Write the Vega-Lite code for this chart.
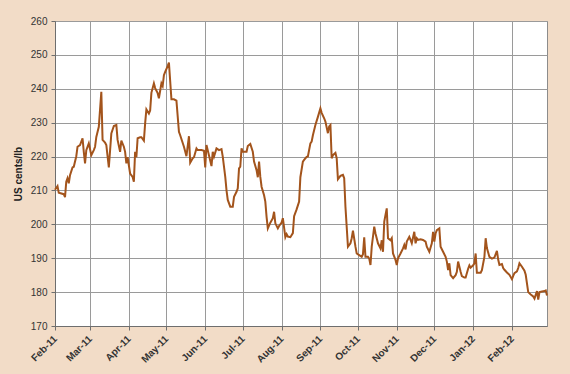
{
  "$schema": "https://vega.github.io/schema/vega-lite/v6.json",
  "width": 492,
  "height": 305,
  "autosize": {"type": "none"},
  "padding": {"left": 55, "top": 21, "right": 23, "bottom": 48},
  "background": "#F2DCC7",
  "config": {
    "view": {"fill": "white", "stroke": "#8c8c8c", "strokeWidth": 1},
    "font": "Liberation Sans",
    "axis": {
      "gridColor": "#9a9a9a",
      "gridWidth": 1,
      "domainColor": "#6e6e6e",
      "tickColor": "#6e6e6e",
      "tickSize": 4,
      "labelColor": "#333333",
      "labelFontSize": 10,
      "titleColor": "#222222"
    }
  },
  "data": {
    "values": [
      {"d": "2011-02-01", "v": 210.2}, {"d": "2011-02-03", "v": 211.3}, {"d": "2011-02-04", "v": 209.3},
      {"d": "2011-02-08", "v": 208.9}, {"d": "2011-02-09", "v": 208.0}, {"d": "2011-02-10", "v": 212.6},
      {"d": "2011-02-11", "v": 213.6}, {"d": "2011-02-12", "v": 212.1}, {"d": "2011-02-13", "v": 214.5},
      {"d": "2011-02-15", "v": 216.8}, {"d": "2011-02-16", "v": 217.0}, {"d": "2011-02-18", "v": 220.1},
      {"d": "2011-02-19", "v": 222.9}, {"d": "2011-02-21", "v": 223.4}, {"d": "2011-02-23", "v": 225.4},
      {"d": "2011-02-24", "v": 221.4}, {"d": "2011-02-25", "v": 218.0}, {"d": "2011-02-26", "v": 221.9},
      {"d": "2011-02-28", "v": 223.9}, {"d": "2011-03-02", "v": 220.4}, {"d": "2011-03-04", "v": 221.9},
      {"d": "2011-03-05", "v": 222.9}, {"d": "2011-03-06", "v": 225.8}, {"d": "2011-03-08", "v": 228.8},
      {"d": "2011-03-10", "v": 239.1}, {"d": "2011-03-11", "v": 224.9}, {"d": "2011-03-13", "v": 224.1},
      {"d": "2011-03-14", "v": 223.4}, {"d": "2011-03-16", "v": 216.8}, {"d": "2011-03-18", "v": 226.8},
      {"d": "2011-03-20", "v": 229.0}, {"d": "2011-03-22", "v": 229.3}, {"d": "2011-03-23", "v": 224.9},
      {"d": "2011-03-25", "v": 221.4}, {"d": "2011-03-26", "v": 224.7}, {"d": "2011-03-28", "v": 222.9},
      {"d": "2011-03-29", "v": 221.4}, {"d": "2011-03-30", "v": 218.0}, {"d": "2011-03-31", "v": 219.8},
      {"d": "2011-04-02", "v": 215.0}, {"d": "2011-04-04", "v": 214.0}, {"d": "2011-04-05", "v": 212.6},
      {"d": "2011-04-06", "v": 221.4}, {"d": "2011-04-07", "v": 219.8}, {"d": "2011-04-08", "v": 225.4},
      {"d": "2011-04-10", "v": 225.7}, {"d": "2011-04-11", "v": 225.7}, {"d": "2011-04-13", "v": 224.7},
      {"d": "2011-04-14", "v": 229.8}, {"d": "2011-04-15", "v": 233.9}, {"d": "2011-04-17", "v": 232.7},
      {"d": "2011-04-18", "v": 233.6}, {"d": "2011-04-19", "v": 238.8}, {"d": "2011-04-21", "v": 241.6},
      {"d": "2011-04-22", "v": 240.2}, {"d": "2011-04-24", "v": 238.7}, {"d": "2011-04-25", "v": 237.2},
      {"d": "2011-04-27", "v": 241.6}, {"d": "2011-04-28", "v": 240.8}, {"d": "2011-04-29", "v": 244.0},
      {"d": "2011-04-30", "v": 245.0}, {"d": "2011-05-02", "v": 246.7}, {"d": "2011-05-03", "v": 247.7},
      {"d": "2011-05-05", "v": 236.9}, {"d": "2011-05-07", "v": 236.9}, {"d": "2011-05-09", "v": 236.5},
      {"d": "2011-05-11", "v": 227.3}, {"d": "2011-05-12", "v": 226.3}, {"d": "2011-05-15", "v": 222.9},
      {"d": "2011-05-17", "v": 220.1}, {"d": "2011-05-19", "v": 226.0}, {"d": "2011-05-20", "v": 218.2},
      {"d": "2011-05-22", "v": 219.5}, {"d": "2011-05-23", "v": 219.8}, {"d": "2011-05-25", "v": 222.4},
      {"d": "2011-05-26", "v": 221.9}, {"d": "2011-05-29", "v": 221.9}, {"d": "2011-05-31", "v": 221.7},
      {"d": "2011-06-01", "v": 216.8}, {"d": "2011-06-02", "v": 223.4}, {"d": "2011-06-03", "v": 221.9},
      {"d": "2011-06-06", "v": 217.2}, {"d": "2011-06-07", "v": 221.4}, {"d": "2011-06-08", "v": 220.0},
      {"d": "2011-06-10", "v": 222.4}, {"d": "2011-06-12", "v": 221.9}, {"d": "2011-06-14", "v": 222.2},
      {"d": "2011-06-15", "v": 220.0}, {"d": "2011-06-17", "v": 214.0}, {"d": "2011-06-18", "v": 210.0},
      {"d": "2011-06-19", "v": 207.2}, {"d": "2011-06-21", "v": 205.2}, {"d": "2011-06-23", "v": 205.2},
      {"d": "2011-06-24", "v": 208.1}, {"d": "2011-06-26", "v": 209.6}, {"d": "2011-06-27", "v": 210.6},
      {"d": "2011-06-28", "v": 216.5}, {"d": "2011-06-29", "v": 217.0}, {"d": "2011-06-30", "v": 222.4},
      {"d": "2011-07-01", "v": 221.4}, {"d": "2011-07-04", "v": 221.4}, {"d": "2011-07-05", "v": 223.1},
      {"d": "2011-07-07", "v": 223.7}, {"d": "2011-07-09", "v": 221.4}, {"d": "2011-07-10", "v": 218.5},
      {"d": "2011-07-12", "v": 216.0}, {"d": "2011-07-13", "v": 213.9}, {"d": "2011-07-14", "v": 218.5},
      {"d": "2011-07-15", "v": 214.0}, {"d": "2011-07-16", "v": 211.1}, {"d": "2011-07-18", "v": 208.6},
      {"d": "2011-07-19", "v": 206.7}, {"d": "2011-07-20", "v": 202.2}, {"d": "2011-07-21", "v": 198.8},
      {"d": "2011-07-23", "v": 200.5}, {"d": "2011-07-25", "v": 201.8}, {"d": "2011-07-26", "v": 203.7},
      {"d": "2011-07-27", "v": 200.3}, {"d": "2011-07-29", "v": 198.8}, {"d": "2011-07-30", "v": 199.5},
      {"d": "2011-08-01", "v": 200.5}, {"d": "2011-08-02", "v": 201.8}, {"d": "2011-08-04", "v": 196.2},
      {"d": "2011-08-05", "v": 197.1}, {"d": "2011-08-06", "v": 196.4}, {"d": "2011-08-08", "v": 196.2},
      {"d": "2011-08-10", "v": 197.4}, {"d": "2011-08-11", "v": 202.4}, {"d": "2011-08-13", "v": 204.4},
      {"d": "2011-08-15", "v": 206.7}, {"d": "2011-08-16", "v": 213.9}, {"d": "2011-08-18", "v": 218.5},
      {"d": "2011-08-19", "v": 219.0}, {"d": "2011-08-21", "v": 219.9}, {"d": "2011-08-22", "v": 220.0},
      {"d": "2011-08-24", "v": 223.9}, {"d": "2011-08-25", "v": 224.4}, {"d": "2011-08-26", "v": 226.3},
      {"d": "2011-08-28", "v": 229.3}, {"d": "2011-08-30", "v": 231.7}, {"d": "2011-09-01", "v": 234.2},
      {"d": "2011-09-02", "v": 232.9}, {"d": "2011-09-04", "v": 231.3}, {"d": "2011-09-05", "v": 230.3},
      {"d": "2011-09-07", "v": 226.9}, {"d": "2011-09-08", "v": 228.9}, {"d": "2011-09-09", "v": 229.3},
      {"d": "2011-09-10", "v": 219.5}, {"d": "2011-09-11", "v": 220.4}, {"d": "2011-09-13", "v": 221.1},
      {"d": "2011-09-14", "v": 219.5}, {"d": "2011-09-15", "v": 213.3}, {"d": "2011-09-17", "v": 214.3},
      {"d": "2011-09-19", "v": 214.6}, {"d": "2011-09-20", "v": 213.6}, {"d": "2011-09-21", "v": 205.2},
      {"d": "2011-09-23", "v": 193.4}, {"d": "2011-09-25", "v": 194.4}, {"d": "2011-09-26", "v": 195.9},
      {"d": "2011-09-27", "v": 198.1}, {"d": "2011-09-29", "v": 193.4}, {"d": "2011-09-30", "v": 191.4},
      {"d": "2011-10-02", "v": 190.9}, {"d": "2011-10-04", "v": 190.4}, {"d": "2011-10-05", "v": 191.2},
      {"d": "2011-10-06", "v": 196.2}, {"d": "2011-10-07", "v": 190.4}, {"d": "2011-10-09", "v": 190.4},
      {"d": "2011-10-10", "v": 189.9}, {"d": "2011-10-11", "v": 188.0}, {"d": "2011-10-12", "v": 193.4},
      {"d": "2011-10-14", "v": 199.3}, {"d": "2011-10-15", "v": 197.3}, {"d": "2011-10-17", "v": 194.4},
      {"d": "2011-10-19", "v": 192.9}, {"d": "2011-10-20", "v": 195.3}, {"d": "2011-10-21", "v": 191.9},
      {"d": "2011-10-22", "v": 200.8}, {"d": "2011-10-23", "v": 202.8}, {"d": "2011-10-24", "v": 204.7},
      {"d": "2011-10-25", "v": 195.9}, {"d": "2011-10-27", "v": 195.3}, {"d": "2011-10-28", "v": 195.9},
      {"d": "2011-10-29", "v": 191.4}, {"d": "2011-10-31", "v": 189.5}, {"d": "2011-11-01", "v": 188.0},
      {"d": "2011-11-02", "v": 190.0}, {"d": "2011-11-04", "v": 191.4}, {"d": "2011-11-06", "v": 192.9},
      {"d": "2011-11-07", "v": 193.9}, {"d": "2011-11-08", "v": 192.6}, {"d": "2011-11-09", "v": 194.9},
      {"d": "2011-11-11", "v": 196.3}, {"d": "2011-11-12", "v": 195.4}, {"d": "2011-11-13", "v": 194.4},
      {"d": "2011-11-15", "v": 197.8}, {"d": "2011-11-16", "v": 194.4}, {"d": "2011-11-17", "v": 195.9},
      {"d": "2011-11-18", "v": 195.4}, {"d": "2011-11-20", "v": 195.6}, {"d": "2011-11-22", "v": 195.4},
      {"d": "2011-11-24", "v": 194.9}, {"d": "2011-11-25", "v": 193.4}, {"d": "2011-11-27", "v": 191.9},
      {"d": "2011-11-29", "v": 194.4}, {"d": "2011-11-30", "v": 197.8}, {"d": "2011-12-01", "v": 194.9},
      {"d": "2011-12-02", "v": 197.3}, {"d": "2011-12-03", "v": 198.3}, {"d": "2011-12-05", "v": 198.8},
      {"d": "2011-12-06", "v": 193.4}, {"d": "2011-12-08", "v": 191.9}, {"d": "2011-12-10", "v": 190.4},
      {"d": "2011-12-11", "v": 189.0}, {"d": "2011-12-12", "v": 186.5}, {"d": "2011-12-13", "v": 188.5},
      {"d": "2011-12-14", "v": 185.0}, {"d": "2011-12-16", "v": 184.1}, {"d": "2011-12-18", "v": 185.0},
      {"d": "2011-12-19", "v": 186.0}, {"d": "2011-12-20", "v": 189.0}, {"d": "2011-12-22", "v": 186.0},
      {"d": "2011-12-23", "v": 184.7}, {"d": "2011-12-25", "v": 184.3}, {"d": "2011-12-26", "v": 184.3},
      {"d": "2011-12-28", "v": 186.9}, {"d": "2011-12-29", "v": 187.9}, {"d": "2011-12-30", "v": 187.2},
      {"d": "2012-01-01", "v": 187.9}, {"d": "2012-01-02", "v": 188.5}, {"d": "2012-01-03", "v": 191.4},
      {"d": "2012-01-04", "v": 185.7}, {"d": "2012-01-07", "v": 185.7}, {"d": "2012-01-08", "v": 186.5},
      {"d": "2012-01-10", "v": 190.4}, {"d": "2012-01-11", "v": 195.9}, {"d": "2012-01-12", "v": 193.0},
      {"d": "2012-01-14", "v": 190.4}, {"d": "2012-01-16", "v": 189.9}, {"d": "2012-01-18", "v": 190.2},
      {"d": "2012-01-20", "v": 192.2}, {"d": "2012-01-21", "v": 189.6}, {"d": "2012-01-22", "v": 188.0},
      {"d": "2012-01-24", "v": 188.3}, {"d": "2012-01-25", "v": 187.1}, {"d": "2012-01-26", "v": 186.6},
      {"d": "2012-01-28", "v": 185.8}, {"d": "2012-01-30", "v": 185.1}, {"d": "2012-02-01", "v": 183.8},
      {"d": "2012-02-02", "v": 184.8}, {"d": "2012-02-03", "v": 185.6}, {"d": "2012-02-05", "v": 186.1},
      {"d": "2012-02-06", "v": 187.1}, {"d": "2012-02-07", "v": 188.5}, {"d": "2012-02-09", "v": 187.5},
      {"d": "2012-02-11", "v": 186.3}, {"d": "2012-02-12", "v": 185.1}, {"d": "2012-02-14", "v": 180.0},
      {"d": "2012-02-16", "v": 179.3}, {"d": "2012-02-18", "v": 178.7}, {"d": "2012-02-19", "v": 178.1},
      {"d": "2012-02-21", "v": 180.3}, {"d": "2012-02-22", "v": 177.8}, {"d": "2012-02-23", "v": 180.0},
      {"d": "2012-02-25", "v": 180.2}, {"d": "2012-02-27", "v": 180.3}, {"d": "2012-02-28", "v": 180.5},
      {"d": "2012-02-29", "v": 179.0}
    ]
  },
  "mark": {"type": "line", "color": "#A3541C", "strokeWidth": 2},
  "encoding": {
    "x": {
      "field": "d",
      "type": "temporal",
      "scale": {
        "type": "utc",
        "domain": [
          {"year": 2011, "month": 2, "date": 1, "utc": true},
          {"year": 2012, "month": 2, "date": 29, "utc": true}
        ]
      },
      "axis": {
        "title": null,
        "labelExpr": "utcFormat(datum.value, '%b-%y')",
        "values": [
          {"year": 2011, "month": 2, "date": 1, "utc": true},
          {"year": 2011, "month": 3, "date": 1, "utc": true},
          {"year": 2011, "month": 4, "date": 1, "utc": true},
          {"year": 2011, "month": 5, "date": 1, "utc": true},
          {"year": 2011, "month": 6, "date": 1, "utc": true},
          {"year": 2011, "month": 7, "date": 1, "utc": true},
          {"year": 2011, "month": 8, "date": 1, "utc": true},
          {"year": 2011, "month": 9, "date": 1, "utc": true},
          {"year": 2011, "month": 10, "date": 1, "utc": true},
          {"year": 2011, "month": 11, "date": 1, "utc": true},
          {"year": 2011, "month": 12, "date": 1, "utc": true},
          {"year": 2012, "month": 1, "date": 1, "utc": true},
          {"year": 2012, "month": 2, "date": 1, "utc": true}
        ],
        "labelAngle": -45,
        "labelAlign": "right",
        "labelBaseline": "middle",
        "labelFontWeight": "bold",
        "labelFontSize": 10,
        "labelPadding": 7,
        "labelOverlap": false,
        "labelBound": false,
        "labelFlush": false
      }
    },
    "y": {
      "field": "v",
      "type": "quantitative",
      "scale": {"domain": [170, 260], "nice": false, "zero": false},
      "axis": {
        "title": "US cents/lb",
        "titleFontSize": 10,
        "titleFontWeight": "bold",
        "titlePadding": 7,
        "values": [170, 180, 190, 200, 210, 220, 230, 240, 250, 260],
        "labelPadding": 4
      }
    }
  }
}
